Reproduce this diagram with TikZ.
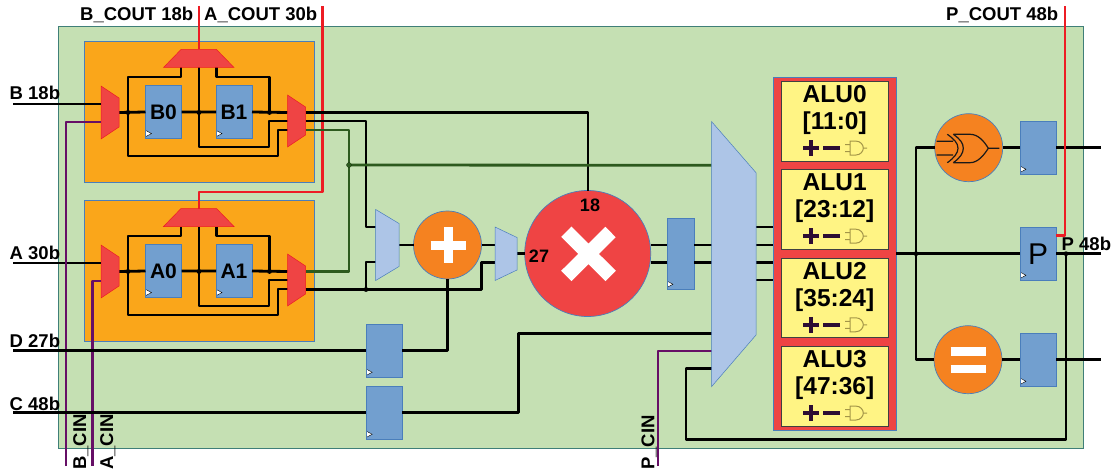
\documentclass[tikz,border=0pt]{standalone}
\usepackage{fontspec}
\setmainfont{Liberation Sans}
\usetikzlibrary{positioning}

\definecolor{slicegreen}{HTML}{C5E0B3}
\definecolor{edgegreen}{HTML}{3F7F78}
\definecolor{stageorange}{HTML}{FAA61A}
\definecolor{addorange}{HTML}{F58220}
\definecolor{muxred}{HTML}{EF4444}
\definecolor{regblue}{HTML}{729FCF}
\definecolor{edgeblue}{HTML}{4A7EBB}
\definecolor{muxblue}{HTML}{ADC5E7}
\definecolor{aluyellow}{HTML}{FFF484}
\definecolor{cinpurple}{HTML}{660F66}
\definecolor{fbgreen}{HTML}{2D5A1E}
\definecolor{coutred}{HTML}{ED1C24}
\definecolor{opdark}{HTML}{2D0D33}
\definecolor{gateolive}{HTML}{A39548}

\tikzset{
  wire/.style={draw=black, line width=2.8pt, line join=round},
  fbwire/.style={draw=fbgreen, line width=2.8pt, line join=round},
  cinwire/.style={draw=cinpurple, line width=2.8pt, line join=round},
  coutwire/.style={draw=coutred, line width=2.8pt, line join=round},
  regbox/.style={draw=edgeblue, fill=regblue, line width=.7pt, inner sep=0pt, outer sep=0pt,
    minimum width=36pt, minimum height=53.5pt,
    path picture={\draw[fill=white, draw=black, line width=.4pt]
      ([yshift=2pt]path picture bounding box.south west) -- ++(6pt,3.2pt) -- ++(-6pt,3.2pt) -- cycle;}},
  stagebox/.style={draw=edgeblue, fill=stageorange, line width=.7pt, minimum width=230pt, minimum height=141pt, inner sep=0pt, outer sep=0pt},
  opcircle/.style={circle, draw=edgeblue, fill=addorange, line width=.7pt, minimum size=68pt, inner sep=0pt, outer sep=0pt},
  redmux/.style={draw=coutred, fill=muxred, line width=.5pt},
  bluemux/.style={draw=edgeblue, fill=muxblue, line width=.5pt},
  alubox/.style={draw=black!75, fill=aluyellow, line width=.9pt, minimum width=106.5pt, minimum height=79.5pt, inner sep=0pt, outer sep=0pt},
  alutext/.style={font=\fontsize{24.5}{27}\selectfont\bfseries, align=center, inner sep=0pt, anchor=north},
  portlabel/.style={font=\fontsize{18.5}{20}\selectfont\bfseries, inner sep=0pt, anchor=base west},
  cinlabel/.style={font=\fontsize{18.5}{20}\selectfont\bfseries, inner sep=0pt, anchor=base west, rotate=90},
  widthlabel/.style={font=\fontsize{18}{20}\selectfont\bfseries, inner sep=0pt},
  aluicons/.pic={
    \draw[opdark, line width=4pt] (-31.7,0) -- (-15.7,0) (-23.7,-8) -- (-23.7,8) (-11.4,0) -- (5.3,0);
    \draw[gateolive, line width=1pt] (15.5,-7) -- (21,-7) .. controls (26,-7) and (28.6,-3) .. (28.6,0)
      .. controls (28.6,3) and (26,7) .. (21,7) -- (15.5,7) -- cycle
      (28.6,0) -- (32.3,0) (10.3,-3.5) -- (15.5,-3.5) (10.3,3.5) -- (15.5,3.5);
  }
}

\begin{document}
\begin{tikzpicture}[x=1pt, y=-1pt]
\useasboundingbox (0,0) rectangle (1113,476);

\node[draw=edgegreen, fill=slicegreen, line width=.8pt, minimum width=1025pt, minimum height=422pt, inner sep=0pt, outer sep=0pt] (slice) at (570.5,237) {};

\foreach \n/\dy in {B/0, A/159}{
\begin{scope}[shift={(0,\dy)}]
\node[stagebox] (\n box) at (199,111.5) {};
\node[regbox, font=\fontsize{21}{24}\selectfont\bfseries] (\n0) at (163.5,112) {\n0};
\node[regbox, font=\fontsize{21}{24}\selectfont\bfseries] (\n1) at (234,112) {\n1};
\coordinate (\n jl) at (128,112.5);
\coordinate (\n jm) at (199,112.5);
\coordinate (\n jr) at (269.5,112.5);
\coordinate (\n lin) at (101,104);
\coordinate (\n lcin) at (101,122);
\coordinate (\n lo) at (119,112.5);
\coordinate (\n ra) at (287.5,112.5);
\coordinate (\n rb) at (287.5,121);
\coordinate (\n rc) at (287.5,130);
\coordinate (\n topin) at (199,49.5);
\coordinate (\n topl) at (181,67.5);
\coordinate (\n topm) at (199,67.5);
\coordinate (\n topr) at (216.5,67.5);
\draw[wire] (\n lo) -- (\n0.west) (\n0.east) -- (\n1.west) (\n1.east) -- (\n ra);
\draw[wire] (\n topl) -- ++(0,9.5) -- ++(-53,0) -- ++(0,79) -- ++(150,0) -- ++(0,-26) -- (\n rc);
\draw[wire] (\n topm) -- ++(0,79.5) -- ++(70,0) -- ++(0,-26) -- (\n rb);
\draw[wire] (\n topr) -- ++(0,9.5) -- ++(53,0) -- (\n jr);
\fill (\n jl) circle (2.4pt) (\n jm) circle (2.4pt) (\n jr) circle (2.4pt);
\draw[redmux] (101,86) -- (119,98) -- (119,127) -- (101,139) -- cycle;
\draw[redmux] (287.5,95) -- (305.5,107) -- (305.5,135) -- (287.5,147) -- cycle;
\draw[redmux] (181,49.5) -- (216.5,49.5) -- (234,67.5) -- (163.5,67.5) -- cycle;
\end{scope}
}

\coordinate (Bin) at (13,104);
\coordinate (Ain) at (13,263);
\coordinate (Dport) at (13,350.7);
\coordinate (Cport) at (13,412.7);
\coordinate (Bcinport) at (66,466);
\coordinate (Acinport) at (92.5,466);
\coordinate (Pcinport) at (658,466);
\coordinate (Bcoutport) at (199,6);
\coordinate (Acoutport) at (322.5,6);
\coordinate (Pcoutport) at (1065,6);
\coordinate (Boa) at (305.5,112.5);
\coordinate (Bob) at (305.5,121);
\coordinate (Boc) at (305.5,130);
\coordinate (Aoa) at (305.5,271.5);
\coordinate (Aob) at (305.5,289.5);
\coordinate (jfb) at (349,165);
\coordinate (jpre) at (366,289.5);
\coordinate (jalu) at (916,253.7);
\coordinate (jp) at (1066,253.7);

\node[opcircle] (add) at (447.5,245) {};
\node[opcircle, fill=muxred, minimum size=126pt] (mult) at (587.7,253.5) {};
\node[opcircle] (xorop) at (968.7,147.7) {};
\node[opcircle] (eqop) at (968,359.7) {};

\node[regbox] (regD) at (384.2,350.7) {};
\node[regbox] (regC) at (384.2,412.7) {};
\node[regbox, minimum width=27pt, minimum height=71.5pt] (regM) at (680.5,253.7) {};
\node[regbox] (regX) at (1038,147.7) {};
\node[regbox, font=\fontsize{30}{32}\selectfont] (regP) at (1038,253.7) {P};
\node[regbox] (regE) at (1038,359.7) {};

\node[draw=edgeblue, fill=muxred, line width=.7pt, minimum width=123.5pt, minimum height=352.5pt, inner sep=0pt, outer sep=0pt] (alubank) at (834.7,253.7) {};
\foreach \i/\cy/\range in {0/121.3/11:0, 1/209.4/23:12, 2/298/35:24, 3/386.3/47:36}{
  \node[alubox] (alu\i) at (834.7,\cy) {};
  \node[alutext] (alutxt\i) at ([yshift=-4pt]alu\i.north) {ALU\i\\{}[\range]};
  \pic at ([yshift=13pt]alu\i.south) {aluicons};
}

\coordinate (muxAin) at (375.7,227);
\coordinate (muxAinb) at (375.7,262);
\coordinate (muxAo) at (399,245);
\coordinate (muxBin) at (495,245);
\coordinate (muxBinb) at (495,262.5);
\coordinate (muxBo) at (517,253.5);
\coordinate (bigfb) at (711.5,165.3);
\coordinate (biga) at (711.5,245);
\coordinate (bigb) at (711.5,262.7);
\coordinate (bigc) at (711.5,333.5);
\coordinate (bigcin) at (711.5,351);
\coordinate (bigp) at (711.5,368.5);
\coordinate (bigout) at (756,253.7);

\draw[wire] (Bin) -- (Blin);
\draw[wire] (Ain) -- (Alin);
\draw[cinwire] (Bcinport) -- (66,122) -- (Blcin);
\draw[cinwire] (Acinport) -- (92.5,281) -- (Alcin);
\draw[coutwire] (Bcoutport) -- (Btopin);
\draw[coutwire] (Acoutport) -- (322.5,192) -- (199,192) -- (Atopin);
\draw[wire] (Boa) -- (588,112.5) -- (mult.north -| 588,0);
\draw[wire] (Bob) -- (366,121) -- (366,227) -- (muxAin);
\draw[fbwire] (Boc) -- (349,130) -- (349,271.5) -- (Aoa);
\draw[fbwire] (jfb) -- (bigfb);
\draw[wire] (Aob) -- (481.7,289.5) -- (481.7,262.5) -- (muxBinb);
\draw[wire] (jpre) -- (366,262) -- (muxAinb);
\draw[wire] (muxAo) -- (add.west);
\draw[wire] (add.east) -- (muxBin);
\draw[wire] (muxBo) -- (525,253.5);
\draw[wire] (Dport) -- (regD.west);
\draw[wire] (Cport) -- (regC.west);
\draw[wire] (regD.east) -- (447.5,350.7) -- (add.south);
\draw[wire] (regC.east) -- (518.5,412.7) -- (518.5,333.5) -- (bigc);
\draw[wire] (650.5,245) -- (667,245) (694,245) -- (biga);
\draw[wire] (650.5,262.7) -- (667,262.7) (694,262.7) -- (bigb);
\draw[cinwire] (Pcinport) -- (658,351) -- (bigcin);
\draw[wire] (bigp) -- (686,368.5) -- (686,439.5) -- (1066,439.5) -- (jp);
\foreach \wy in {227,245,262.7,280}
  \draw[wire] (756,\wy) -- (773,\wy);
\draw[wire] (alubank.east |- jalu) -- (regP.west);
\draw[wire] (regP.east) -- (1101,253.7);
\draw[wire] (xorop.west) -- (916,147.7) -- (jalu) -- (916,359.7) -- (eqop.west);
\draw[wire] (xorop.east) -- (regX.west);
\draw[wire] (regX.east) -- (1101,147.7);
\draw[wire] (eqop.east) -- (regE.west);
\draw[wire] (regE.east) -- (1101,359.7);
\draw[coutwire] (1056,235.7) -- (1065,235.7) -- (Pcoutport);
\fill (jfb) circle (2.6pt) (jpre) circle (2.4pt) (jalu) circle (2.4pt) (jp) circle (2.4pt);
\fill[fbgreen] (jfb) circle (2.6pt);

\draw[bluemux] (375.7,209.5) -- (399,223.5) -- (399,266.5) -- (375.7,280.5) -- cycle;
\draw[bluemux] (495,227) -- (517,237.5) -- (517,270) -- (495,280.5) -- cycle;
\draw[bluemux] (711.5,121.5) -- (756,172.7) -- (756,335) -- (711.5,386.7) -- cycle;

\draw[white, line width=8.8pt] (430.7,245.3) -- (466,245.3) (448.3,227) -- (448.3,263);
\draw[white, line width=14.6pt] (566.3,231.7) -- (610.7,276) (610.5,232) -- (566.3,276);
\draw[white, line width=8.8pt] (950.7,351.2) -- (986,351.2) (950.7,369) -- (986,369);
\draw[black!90, line width=1.2pt]
  (936.7,141.3) -- (953,141.3) (936.7,155) -- (953,155)
  (947.3,134.3) .. controls (954,139) and (958,143) .. (958,148.3) .. controls (958,153) and (954,158) .. (947.3,162.7)
  (953.3,134.3) .. controls (960,139) and (963.3,143) .. (963.3,148.3) .. controls (963.3,153) and (960,158) .. (953.3,162.7)
  (953.3,134.3) -- (970,134.3) .. controls (978,134.3) and (984,141) .. (988.3,148.3)
  .. controls (984,155) and (978,162.7) .. (970,162.7) -- (953.3,162.7)
  (988.3,148.3) -- (999.3,148.3);

\node[widthlabel] (lab18) at (590,205) {18};
\node[widthlabel] (lab27) at (539,256) {27};
\node[portlabel] (labBcout) at (80,20.7) {B\_COUT 18b};
\node[portlabel] (labAcout) at (204,20.7) {A\_COUT 30b};
\node[portlabel] (labPcout) at (946,20.7) {P\_COUT 48b};
\node[portlabel] (labB) at (9.5,99.7) {B 18b};
\node[portlabel] (labA) at (9.5,259) {A 30b};
\node[portlabel] (labD) at (9.5,347.7) {D 27b};
\node[portlabel] (labC) at (9.5,410) {C 48b};
\node[portlabel] (labP) at (1061.5,250.7) {P 48b};
\node[cinlabel] (labBcin) at (86,470) {B\_CIN};
\node[cinlabel] (labAcin) at (113,470) {A\_CIN};
\node[cinlabel] (labPcin) at (654.3,470) {P\_CIN};
\end{tikzpicture}
\end{document}
